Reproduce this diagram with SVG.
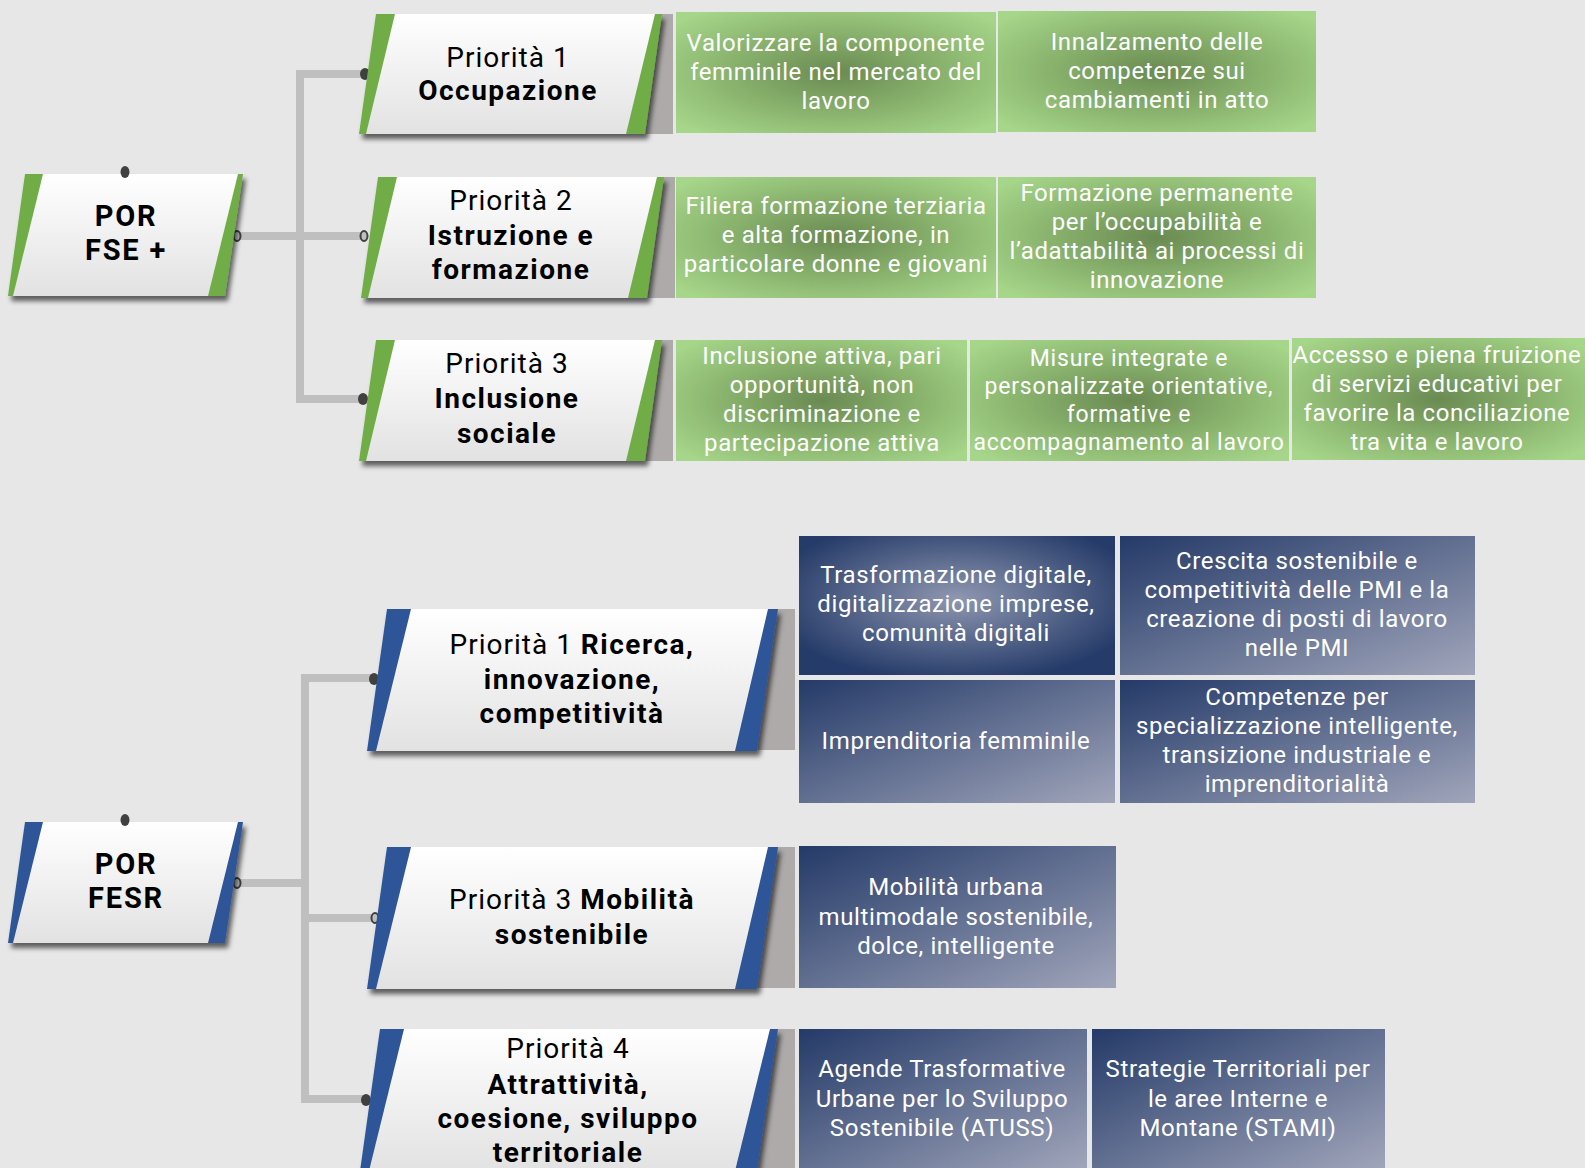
<svg xmlns="http://www.w3.org/2000/svg" width="1585" height="1168" viewBox="0 0 1585 1168">
<defs>
<style>
.t{font-family:Roboto,"Open Sans",sans-serif;text-anchor:middle}
.nt{font-size:28px;fill:#000;letter-spacing:1px}
.b{font-weight:bold;letter-spacing:1.5px}
.por{font-size:29px;letter-spacing:1.8px}
.bt{font-size:24px;fill:#fff;letter-spacing:0.6px}
.sm{font-size:23px;letter-spacing:0.8px}
.conn{fill:none;stroke:#bfbfbf;stroke-width:8}
.dot{fill:#404040}
.ring{fill:#bfbfbf;stroke:#404040;stroke-width:2}
.gray{fill:#aeaaaa}
.g{fill:#70ad47}
.bl{fill:#2f5597}
.w{fill:url(#wg)}
</style>
<linearGradient id="wg" x1="0" y1="0" x2="0" y2="1">
<stop offset="0" stop-color="#ffffff"/>
<stop offset="1" stop-color="#e2e2e2"/>
</linearGradient>
<radialGradient id="gg" cx="0.5" cy="0.5" r="0.65">
<stop offset="0" stop-color="#6a8a52"/>
<stop offset="0.55" stop-color="#8bb56f"/>
<stop offset="1" stop-color="#a6d68a"/>
</radialGradient>
<linearGradient id="bg1" x1="0" y1="0" x2="1" y2="1">
<stop offset="0" stop-color="#243a68"/>
<stop offset="1" stop-color="#a0a5ba"/>
</linearGradient>
<radialGradient id="bg2" cx="0.5" cy="0.45" r="0.6">
<stop offset="0" stop-color="#8f97b0"/>
<stop offset="1" stop-color="#253b69"/>
</radialGradient>
<filter id="sh" x="-10%" y="-10%" width="125%" height="130%">
<feDropShadow dx="3" dy="5" stdDeviation="2.5" flood-color="#000" flood-opacity="0.6"/>
</filter>
</defs>
<rect width="1585" height="1168" fill="#e7e7e7"/>

<g id="connectors">
<path class="conn" d="M365,74 H300 V399 H363"/>
<path class="conn" d="M236,236 H366"/>
<path class="conn" d="M375,678 H305 V1099 H366"/>
<path class="conn" d="M236,883 H305"/>
<path class="conn" d="M305,918 H377"/>
<ellipse class="dot" cx="365" cy="74" rx="5" ry="6"/>
<ellipse class="dot" cx="363" cy="399" rx="5" ry="6"/>
<ellipse class="ring" cx="364" cy="236" rx="3.5" ry="5"/>
<ellipse class="ring" cx="237" cy="236" rx="3.5" ry="5"/>
<ellipse class="dot" cx="374" cy="679" rx="5" ry="6"/>
<ellipse class="ring" cx="375" cy="918" rx="3.5" ry="5"/>
<ellipse class="ring" cx="237" cy="883" rx="3.5" ry="5"/>
<ellipse class="dot" cx="366" cy="1100" rx="5" ry="6"/>
</g>

<g id="por-fse">
<g transform="translate(8,174)">
<path class="g" filter="url(#sh)" d="M17,0 H235 L217,122 H0 Z"/>
<path class="w" d="M35,0 H230 L200,122 H5 Z"/>
</g>
<ellipse class="dot" cx="125" cy="172" rx="4.5" ry="6"/>
<text class="t nt b por" x="126" y="226">POR</text>
<text class="t nt b por" x="126" y="260">FSE +</text>
</g>

<g id="fse-p1">
<g transform="translate(359,14)">
<rect class="gray" x="261" y="0" width="53" height="120"/>
<path class="g" filter="url(#sh)" d="M17,0 H303 L286,120 H0 Z"/>
<path class="w" d="M36,0 H296 L267,120 H7 Z"/>
</g>
<text class="t nt" x="508" y="67">Priorità 1</text>
<text class="t nt b" x="508" y="100">Occupazione</text>
</g>

<g id="fse-p2">
<g transform="translate(361,177)">
<rect class="gray" x="261" y="0" width="53" height="121"/>
<path class="g" filter="url(#sh)" d="M17,0 H303 L286,121 H0 Z"/>
<path class="w" d="M36,0 H296 L267,121 H7 Z"/>
</g>
<text class="t nt" x="511" y="210">Priorità 2</text>
<text class="t nt b" x="511" y="245">Istruzione e</text>
<text class="t nt b" x="511" y="279">formazione</text>
</g>

<g id="fse-p3">
<g transform="translate(359,340)">
<rect class="gray" x="261" y="0" width="53" height="121"/>
<path class="g" filter="url(#sh)" d="M17,0 H303 L286,121 H0 Z"/>
<path class="w" d="M36,0 H296 L267,121 H7 Z"/>
</g>
<text class="t nt" x="507" y="373">Priorità 3</text>
<text class="t nt b" x="507" y="408">Inclusione</text>
<text class="t nt b" x="507" y="443">sociale</text>
</g>

<g id="fse-p1-a">
<rect x="676" y="12" width="320" height="121" fill="url(#gg)"/>
<text class="t bt" x="836" y="51">Valorizzare la componente</text>
<text class="t bt" x="836" y="80">femminile nel mercato del</text>
<text class="t bt" x="836" y="109">lavoro</text>
</g>
<g id="fse-p1-b">
<rect x="998" y="11" width="318" height="121" fill="url(#gg)"/>
<text class="t bt" x="1157" y="50">Innalzamento delle</text>
<text class="t bt" x="1157" y="79">competenze sui</text>
<text class="t bt" x="1157" y="108">cambiamenti in atto</text>
</g>
<g id="fse-p2-a">
<rect x="676" y="177" width="320" height="121" fill="url(#gg)"/>
<text class="t bt" x="836" y="214">Filiera formazione terziaria</text>
<text class="t bt" x="836" y="243">e alta formazione, in</text>
<text class="t bt" x="836" y="272">particolare donne e giovani</text>
</g>
<g id="fse-p2-b">
<rect x="998" y="177" width="318" height="121" fill="url(#gg)"/>
<text class="t bt" x="1157" y="201">Formazione permanente</text>
<text class="t bt" x="1157" y="230">per l’occupabilità e</text>
<text class="t bt" x="1157" y="259">l’adattabilità ai processi di</text>
<text class="t bt" x="1157" y="288">innovazione</text>
</g>
<g id="fse-p3-a">
<rect x="676" y="340" width="291" height="121" fill="url(#gg)"/>
<text class="t bt" x="822" y="364">Inclusione attiva, pari</text>
<text class="t bt" x="822" y="393">opportunità, non</text>
<text class="t bt" x="822" y="422">discriminazione e</text>
<text class="t bt" x="822" y="451">partecipazione attiva</text>
</g>
<g id="fse-p3-b">
<rect x="970" y="340" width="319" height="121" fill="url(#gg)"/>
<text class="t bt sm" x="1129" y="366">Misure integrate e</text>
<text class="t bt sm" x="1129" y="394">personalizzate orientative,</text>
<text class="t bt sm" x="1129" y="422">formative e</text>
<text class="t bt sm" x="1129" y="450">accompagnamento al lavoro</text>
</g>
<g id="fse-p3-c">
<rect x="1292" y="338" width="293" height="122" fill="url(#gg)"/>
<text class="t bt" x="1437" y="363">Accesso e piena fruizione</text>
<text class="t bt" x="1437" y="392">di servizi educativi per</text>
<text class="t bt" x="1437" y="421">favorire la conciliazione</text>
<text class="t bt" x="1437" y="450">tra vita e lavoro</text>
</g>

<g id="por-fesr">
<g transform="translate(8,822)">
<path class="bl" filter="url(#sh)" d="M17,0 H235 L217,121 H0 Z"/>
<path class="w" d="M35,0 H230 L200,121 H5 Z"/>
</g>
<ellipse class="dot" cx="125" cy="820" rx="4.5" ry="6"/>
<text class="t nt b por" x="126" y="874">POR</text>
<text class="t nt b por" x="126" y="908">FESR</text>
</g>

<g id="fesr-p1">
<g transform="translate(367,609)">
<rect class="gray" x="380" y="0" width="48" height="141"/>
<path class="bl" filter="url(#sh)" d="M20,0 H411 L390,142 H0 Z"/>
<path class="w" d="M44,0 H401 L368,142 H9 Z"/>
</g>
<text class="t nt" x="572" y="654"><tspan>Priorità 1 </tspan><tspan class="b">Ricerca,</tspan></text>
<text class="t nt b" x="572" y="689">innovazione,</text>
<text class="t nt b" x="572" y="723">competitività</text>
</g>

<g id="fesr-p3">
<g transform="translate(367,847)">
<rect class="gray" x="380" y="0" width="48" height="141"/>
<path class="bl" filter="url(#sh)" d="M20,0 H411 L390,142 H0 Z"/>
<path class="w" d="M44,0 H401 L368,142 H9 Z"/>
</g>
<text class="t nt" x="572" y="909"><tspan>Priorità 3 </tspan><tspan class="b">Mobilità</tspan></text>
<text class="t nt b" x="572" y="944">sostenibile</text>
</g>

<g id="fesr-p4">
<g transform="translate(360,1029)">
<rect class="gray" x="387" y="0" width="48" height="141"/>
<path class="bl" filter="url(#sh)" d="M20,0 H418 L397,142 H0 Z"/>
<path class="w" d="M44,0 H410 L375,142 H9 Z"/>
</g>
<text class="t nt" x="568" y="1058">Priorità 4</text>
<text class="t nt b" x="568" y="1094">Attrattività,</text>
<text class="t nt b" x="568" y="1128">coesione, sviluppo</text>
<text class="t nt b" x="568" y="1162">territoriale</text>
</g>

<g id="fesr-p1-a">
<rect x="799" y="536" width="316" height="139" fill="url(#bg2)"/>
<text class="t bt" x="956" y="583">Trasformazione digitale,</text>
<text class="t bt" x="956" y="612">digitalizzazione imprese,</text>
<text class="t bt" x="956" y="641">comunità digitali</text>
</g>
<g id="fesr-p1-b">
<rect x="1120" y="536" width="355" height="139" fill="url(#bg1)"/>
<text class="t bt" x="1297" y="569">Crescita sostenibile e</text>
<text class="t bt" x="1297" y="598">competitività delle PMI e la</text>
<text class="t bt" x="1297" y="627">creazione di posti di lavoro</text>
<text class="t bt" x="1297" y="656">nelle PMI</text>
</g>
<g id="fesr-p1-c">
<rect x="799" y="680" width="316" height="123" fill="url(#bg1)"/>
<text class="t bt" x="956" y="749">Imprenditoria femminile</text>
</g>
<g id="fesr-p1-d">
<rect x="1120" y="680" width="355" height="123" fill="url(#bg1)"/>
<text class="t bt" x="1297" y="705">Competenze per</text>
<text class="t bt" x="1297" y="734">specializzazione intelligente,</text>
<text class="t bt" x="1297" y="763">transizione industriale e</text>
<text class="t bt" x="1297" y="792">imprenditorialità</text>
</g>
<g id="fesr-p3-a">
<rect x="799" y="846" width="317" height="142" fill="url(#bg1)"/>
<text class="t bt" x="956" y="895">Mobilità urbana</text>
<text class="t bt" x="956" y="925">multimodale sostenibile,</text>
<text class="t bt" x="956" y="954">dolce, intelligente</text>
</g>
<g id="fesr-p4-a">
<rect x="799" y="1029" width="288" height="139" fill="url(#bg1)"/>
<text class="t bt" x="942" y="1077">Agende Trasformative</text>
<text class="t bt" x="942" y="1107">Urbane per lo Sviluppo</text>
<text class="t bt" x="942" y="1136">Sostenibile (ATUSS)</text>
</g>
<g id="fesr-p4-b">
<rect x="1092" y="1029" width="293" height="139" fill="url(#bg1)"/>
<text class="t bt" x="1238" y="1077">Strategie Territoriali per</text>
<text class="t bt" x="1238" y="1107">le aree Interne e</text>
<text class="t bt" x="1238" y="1136">Montane (STAMI)</text>
</g>
</svg>
